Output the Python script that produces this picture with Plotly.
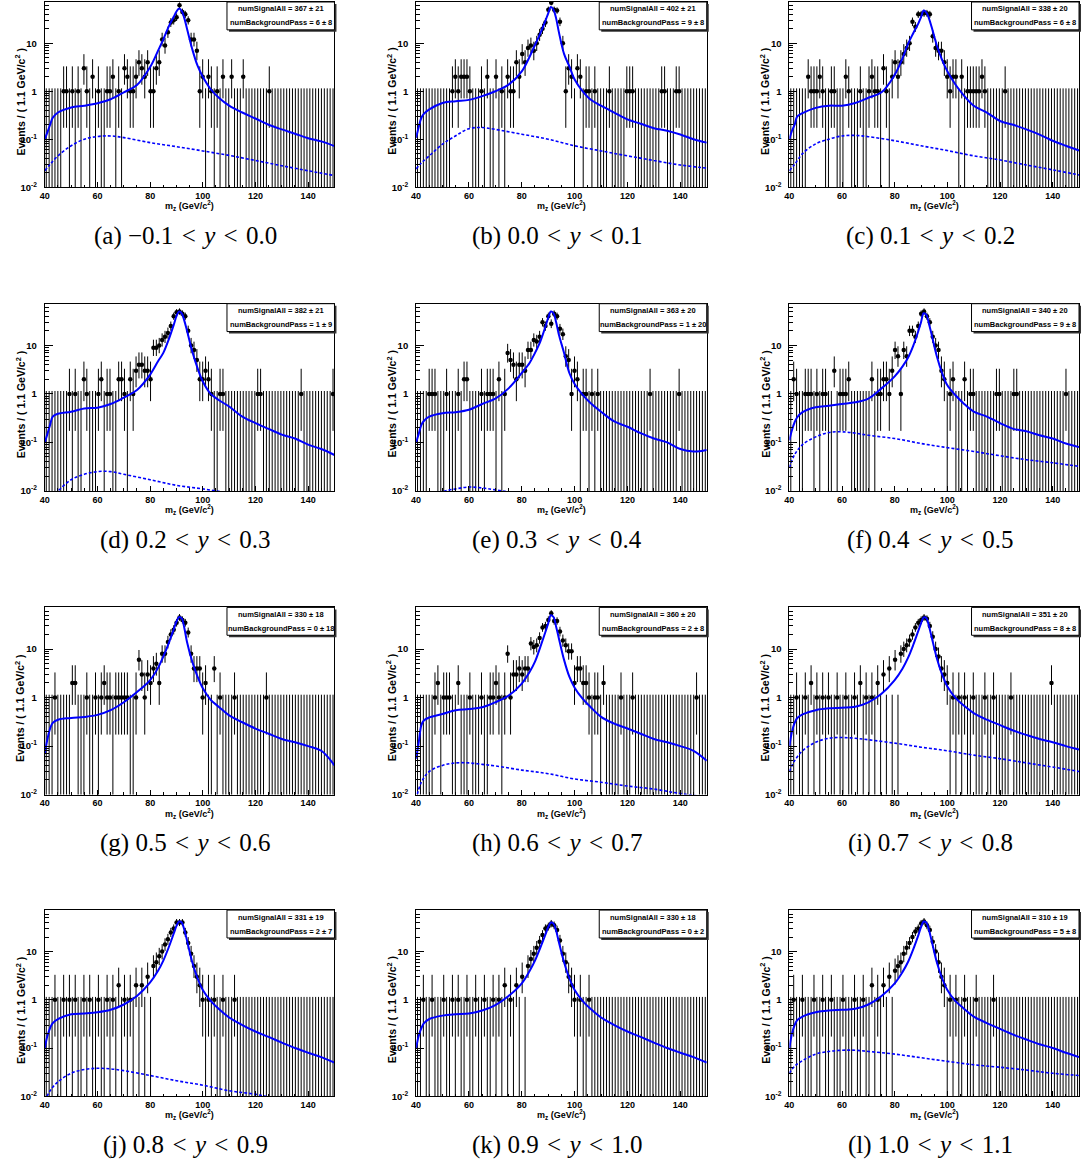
import math
import plotly.graph_objects as go

W, H = 1083, 1169
X_MIN, X_MAX, BIN_W, NBINS = 40.0, 150.0, 1.1, 100

PANEL_IDS = ["a", "b", "c", "d", "e", "f", "g", "h", "i", "j", "k", "l"]
CAPTION_LO = ["−0.1", "0.0", "0.1", "0.2", "0.3", "0.4", "0.5", "0.6", "0.7", "0.8", "0.9", "1.0"]
CAPTION_HI = ["0.0", "0.1", "0.2", "0.3", "0.4", "0.5", "0.6", "0.7", "0.8", "0.9", "1.0", "1.1"]
SIGNAL_VAL = ["367 ± 21", "402 ± 21", "338 ± 20", "382 ± 21", "363 ± 20", "340 ± 20",
              "330 ± 18", "360 ± 20", "351 ± 20", "331 ± 19", "330 ± 18", "310 ± 19"]
BKG_VAL = ["6 ± 8", "9 ± 8", "6 ± 8", "1 ± 9", "1 ± 20", "9 ± 8",
           "0 ± 18", "2 ± 8", "8 ± 8", "2 ± 7", "0 ± 2", "5 ± 8"]

# non-empty bins (bin index -> events); bins of 1.1 GeV starting at 40 GeV
COUNTS_A = {6: 1, 7: 1, 9: 1, 11: 1, 13: 3, 14: 1, 16: 2, 18: 1, 21: 1, 22: 1, 23: 2, 25: 1, 27: 3, 28: 2,
            29: 1, 30: 1, 31: 2, 32: 4, 33: 3, 34: 2, 35: 4, 36: 1, 37: 1, 38: 3, 39: 4, 40: 12, 41: 9,
            42: 17, 43: 27, 44: 30, 45: 35, 46: 62, 47: 45, 48: 40, 49: 30, 50: 12, 51: 12, 52: 7, 53: 1,
            54: 2, 56: 2, 57: 1, 59: 1, 61: 2, 64: 2, 68: 2, 77: 1}
COUNTS_B = {12: 1, 13: 2, 14: 1, 15: 2, 16: 2, 17: 2, 18: 1, 22: 1, 24: 2, 27: 2, 29: 1, 31: 2, 32: 1,
            33: 1, 34: 4, 35: 2, 36: 6, 37: 4, 38: 8, 39: 9, 40: 7, 41: 10, 42: 15, 43: 20, 44: 27,
            45: 50, 46: 70, 47: 50, 48: 48, 49: 28, 50: 10, 51: 1, 52: 3, 53: 2, 55: 3, 56: 2, 58: 1,
            59: 1, 61: 1, 66: 1, 72: 1, 73: 1, 74: 1, 84: 1, 85: 1, 89: 1, 90: 1}
COUNTS_C = {6: 2, 7: 1, 8: 1, 9: 1, 10: 2, 11: 1, 14: 1, 15: 1, 19: 2, 20: 1, 24: 1, 27: 1, 28: 2, 29: 1,
            30: 1, 32: 3, 33: 1, 35: 2, 36: 4, 37: 2, 38: 4, 39: 6, 40: 8, 41: 10, 42: 28, 43: 22,
            44: 40, 45: 40, 46: 42, 47: 42, 48: 40, 49: 14, 50: 8, 51: 7, 52: 7, 53: 4, 54: 2, 55: 1,
            56: 2, 57: 2, 59: 2, 61: 1, 62: 1, 63: 1, 64: 1, 65: 1, 66: 2, 67: 1, 74: 1}
COUNTS_D = {8: 1, 10: 1, 13: 2, 14: 1, 18: 1, 19: 2, 21: 1, 22: 1, 25: 2, 26: 2, 27: 1, 29: 2, 30: 1,
            31: 3, 32: 4, 33: 4, 34: 3, 35: 3, 36: 2, 37: 9, 38: 9, 39: 10, 40: 13, 41: 15, 42: 18,
            43: 25, 44: 40, 45: 48, 46: 50, 47: 45, 48: 40, 49: 20, 50: 10, 51: 8, 52: 5, 53: 2, 54: 2,
            55: 3, 56: 2, 57: 1, 60: 1, 61: 1, 73: 1, 74: 1, 88: 1, 99: 1}
COUNTS_E = {4: 1, 5: 1, 6: 1, 10: 1, 14: 1, 16: 2, 17: 2, 22: 1, 24: 1, 25: 1, 26: 1, 28: 2, 30: 1,
            31: 7, 32: 5, 33: 4, 34: 2, 35: 4, 36: 4, 37: 3, 38: 8, 39: 8, 40: 13, 41: 12, 42: 15,
            43: 30, 44: 25, 45: 40, 46: 28, 47: 45, 48: 40, 49: 22, 50: 17, 51: 6, 52: 5, 53: 1, 54: 3,
            55: 2, 57: 1, 58: 1, 60: 1, 62: 1, 80: 1, 90: 1}
COUNTS_F = {1: 2, 2: 1, 5: 1, 6: 1, 7: 1, 9: 1, 11: 1, 12: 1, 15: 3, 17: 1, 18: 1, 19: 1, 20: 2, 28: 2,
            30: 1, 31: 1, 32: 2, 33: 2, 34: 1, 35: 3, 36: 8, 37: 6, 38: 1, 39: 8, 40: 6, 41: 20, 42: 20,
            43: 15, 44: 25, 45: 45, 46: 50, 47: 40, 48: 30, 49: 15, 50: 10, 51: 8, 52: 3, 53: 2, 55: 1,
            56: 2, 60: 2, 62: 1, 63: 1, 71: 1, 72: 1, 77: 1, 78: 1, 95: 1}
COUNTS_G = {3: 1, 9: 2, 10: 2, 14: 1, 17: 1, 19: 1, 20: 2, 21: 1, 22: 1, 24: 1, 25: 1, 26: 1, 27: 1,
            28: 1, 31: 1, 32: 6, 33: 3, 34: 1, 35: 3, 36: 2, 37: 4, 38: 5, 39: 2, 40: 8, 41: 8, 42: 14,
            43: 20, 44: 25, 45: 35, 46: 45, 47: 40, 48: 35, 49: 22, 50: 8, 51: 4, 52: 4, 53: 4, 54: 1,
            55: 2, 58: 4, 60: 1, 65: 1, 76: 1}
COUNTS_H = {6: 1, 7: 2, 9: 1, 10: 1, 11: 1, 14: 2, 18: 1, 22: 1, 25: 1, 26: 1, 27: 2, 28: 1, 30: 1,
            31: 8, 32: 1, 33: 3, 34: 3, 35: 4, 36: 3, 37: 4, 38: 4, 39: 13, 40: 11, 41: 12, 42: 17,
            43: 28, 44: 30, 45: 40, 46: 55, 47: 38, 48: 38, 49: 23, 50: 15, 51: 12, 52: 9, 53: 9, 54: 2,
            55: 4, 56: 4, 57: 2, 58: 2, 59: 1, 61: 1, 62: 1, 64: 2, 70: 1, 74: 1, 96: 1}
COUNTS_I = {2: 1, 5: 1, 7: 2, 9: 1, 11: 1, 13: 1, 16: 1, 19: 1, 22: 1, 24: 2, 26: 1, 28: 1, 30: 2,
            32: 3, 34: 4, 36: 6, 38: 8, 39: 10, 40: 12, 41: 15, 42: 20, 43: 28, 44: 35, 45: 40, 46: 45,
            47: 42, 48: 30, 49: 18, 50: 10, 51: 7, 52: 4, 53: 3, 54: 2, 56: 1, 58: 1, 60: 1, 63: 1,
            67: 1, 70: 1, 76: 1, 90: 2}
COUNTS_J = {3: 1, 6: 1, 8: 1, 10: 1, 13: 1, 15: 1, 18: 1, 21: 1, 23: 1, 25: 2, 27: 1, 29: 1, 31: 2,
            33: 2, 35: 3, 37: 5, 38: 6, 39: 8, 40: 10, 41: 14, 42: 18, 43: 25, 44: 30, 45: 40, 46: 40,
            47: 40, 48: 25, 49: 15, 50: 9, 51: 5, 52: 3, 53: 2, 54: 1, 56: 1, 58: 1, 61: 1, 65: 1}
COUNTS_K = {2: 1, 5: 1, 9: 1, 12: 1, 14: 1, 17: 1, 20: 1, 23: 1, 26: 1, 28: 1, 30: 2, 32: 1, 34: 2,
            36: 3, 38: 5, 39: 7, 40: 9, 41: 12, 42: 16, 43: 22, 44: 30, 45: 33, 46: 38, 47: 35, 48: 28,
            49: 17, 50: 9, 51: 6, 52: 3, 53: 2, 54: 1, 56: 1, 59: 1}
COUNTS_L = {1: 1, 4: 1, 8: 1, 11: 1, 14: 1, 18: 1, 22: 1, 25: 1, 28: 2, 30: 1, 32: 2, 34: 3, 36: 4,
            37: 5, 38: 6, 39: 9, 40: 12, 41: 15, 42: 20, 43: 26, 44: 30, 45: 38, 46: 42, 47: 35, 48: 28,
            49: 16, 50: 10, 51: 6, 52: 3, 53: 2, 55: 1, 57: 1, 60: 1, 64: 1, 70: 1}

# fitted total PDF (solid) sampled at CURVE_X
CURVE_X = [40, 41, 42, 43, 45, 50, 55, 60, 65, 70, 75, 80, 83, 85, 87, 89, 90, 91, 92, 93, 94, 96, 98,
           100, 103, 106, 110, 115, 120, 125, 130, 135, 140, 145, 150]
TOTAL_A = [0.10, 0.14, 0.20, 0.28, 0.36, 0.46, 0.50, 0.56, 0.68, 0.95, 1.35, 3.2, 7.0, 12, 22, 36, 46,
           53, 47, 33, 20, 7.5, 3.4, 2.0, 1.1, 0.74, 0.50, 0.36, 0.27, 0.20, 0.16, 0.13, 0.105, 0.09, 0.072]
TOTAL_B = [0.107, 0.18, 0.28, 0.34, 0.42, 0.57, 0.62, 0.66, 0.79, 1.0, 1.37, 2.6, 5.3, 9.2, 16, 30, 42,
           57, 50, 33, 17.5, 6, 3.3, 1.75, 1.0, 0.67, 0.5, 0.36, 0.26, 0.21, 0.17, 0.15, 0.125, 0.10, 0.085]
TOTAL_C = [0.10, 0.15, 0.20, 0.30, 0.35, 0.45, 0.50, 0.50, 0.57, 0.73, 0.95, 2.2, 4.9, 9.5, 16, 26, 35,
           48, 44, 33, 22, 9, 4.5, 2.6, 1.4, 0.85, 0.5, 0.36, 0.24, 0.2, 0.16, 0.125, 0.093, 0.073, 0.058]
TOTAL_D = [0.10, 0.15, 0.23, 0.34, 0.39, 0.43, 0.50, 0.52, 0.62, 0.84, 1.2, 2.5, 4.7, 7, 13, 27, 40,
           50, 46, 32, 20, 7.5, 3.4, 1.8, 1.0, 0.75, 0.55, 0.34, 0.25, 0.19, 0.145, 0.12, 0.09, 0.073, 0.055]
TOTAL_E = [0.10, 0.15, 0.23, 0.28, 0.34, 0.40, 0.42, 0.47, 0.62, 0.80, 1.3, 2.7, 4.4, 7, 12, 25, 37,
           50, 46, 30, 17, 7, 2.7, 1.6, 0.97, 0.65, 0.43, 0.27, 0.21, 0.155, 0.12, 0.10, 0.073, 0.065, 0.07]
TOTAL_F = [0.11, 0.18, 0.26, 0.33, 0.42, 0.53, 0.57, 0.62, 0.67, 0.80, 1.3, 2.3, 3.7, 5.5, 9.7, 20, 30,
           46, 43, 28, 17, 6, 2.7, 1.5, 0.95, 0.65, 0.43, 0.34, 0.25, 0.19, 0.17, 0.14, 0.12, 0.095, 0.08]
TOTAL_G = [0.07, 0.14, 0.23, 0.30, 0.35, 0.38, 0.40, 0.44, 0.55, 0.80, 1.3, 2.3, 4.1, 7, 13, 26, 37,
           46, 43, 27, 14, 5.5, 2.7, 1.55, 0.9, 0.65, 0.43, 0.31, 0.23, 0.18, 0.14, 0.12, 0.10, 0.08, 0.04]
TOTAL_H = [0.055, 0.12, 0.27, 0.34, 0.39, 0.46, 0.55, 0.58, 0.63, 0.80, 1.1, 1.95, 3.4, 5.5, 11, 23, 34,
           50, 46, 29, 17, 6, 2.7, 1.6, 0.95, 0.64, 0.40, 0.29, 0.23, 0.18, 0.14, 0.12, 0.10, 0.08, 0.05]
TOTAL_I = [0.10, 0.2, 0.3, 0.38, 0.45, 0.55, 0.6, 0.62, 0.65, 0.8, 1.2, 2.3, 4, 6.5, 12, 24, 34, 45, 44,
           30, 18, 6.5, 3, 1.7, 1.0, 0.7, 0.48, 0.35, 0.27, 0.21, 0.17, 0.14, 0.12, 0.10, 0.085]
TOTAL_J = [0.10, 0.18, 0.26, 0.33, 0.40, 0.50, 0.52, 0.55, 0.62, 0.8, 1.2, 2.3, 4, 6.5, 12, 24, 34, 42,
           40, 28, 17, 6, 2.8, 1.6, 0.95, 0.65, 0.43, 0.3, 0.22, 0.17, 0.13, 0.1, 0.08, 0.065, 0.05]
TOTAL_K = [0.10, 0.18, 0.26, 0.33, 0.40, 0.47, 0.50, 0.52, 0.60, 0.78, 1.2, 2.2, 4, 6.5, 12, 23, 32, 40,
           38, 27, 16, 6, 2.8, 1.6, 0.95, 0.65, 0.43, 0.3, 0.22, 0.17, 0.13, 0.1, 0.08, 0.065, 0.05]
TOTAL_L = [0.10, 0.2, 0.3, 0.38, 0.45, 0.55, 0.6, 0.62, 0.65, 0.8, 1.2, 2.2, 3.8, 6, 11, 22, 32, 42, 40,
           28, 17, 6, 2.8, 1.6, 0.95, 0.68, 0.45, 0.33, 0.25, 0.19, 0.15, 0.12, 0.1, 0.08, 0.065]

# background component (dotted) sampled at BKG_X; None = not drawn
BKG_X = [40, 42, 45, 50, 55, 60, 65, 70, 80, 90, 100, 110, 120, 130, 140, 150]
BKG_A = [0.022, 0.03, 0.045, 0.073, 0.10, 0.114, 0.117, 0.108, 0.085, 0.07, 0.057, 0.046, 0.036, 0.028, 0.022, 0.0175]
BKG_B = [0.024, 0.032, 0.045, 0.079, 0.118, 0.166, 0.175, 0.16, 0.127, 0.10, 0.073, 0.057, 0.045, 0.036, 0.029, 0.025]
BKG_C = [0.022, 0.03, 0.05, 0.08, 0.10, 0.117, 0.12, 0.113, 0.093, 0.073, 0.058, 0.045, 0.037, 0.029, 0.023, 0.018]
BKG_D = [0.004, 0.007, 0.010, 0.017, 0.022, 0.025, 0.025, 0.022, 0.017, 0.013, 0.011, 0.009, 0.0075, 0.006, 0.005, 0.004]
BKG_E = [0.002, 0.004, 0.006, 0.0095, 0.011, 0.012, 0.0115, 0.0105, 0.0085, 0.007, 0.006, 0.005, 0.004, 0.0035, 0.003, 0.0025]
BKG_F = [0.03, 0.056, 0.09, 0.13, 0.16, 0.165, 0.155, 0.14, 0.12, 0.095, 0.078, 0.065, 0.053, 0.044, 0.038, 0.032]
BKG_G = None
BKG_H = [0.008, 0.018, 0.03, 0.04, 0.045, 0.045, 0.042, 0.039, 0.032, 0.027, 0.021, 0.018, 0.015, 0.013, 0.0105, 0.009]
BKG_I = [0.03, 0.05, 0.08, 0.12, 0.145, 0.15, 0.145, 0.135, 0.115, 0.095, 0.08, 0.065, 0.055, 0.045, 0.037, 0.03]
BKG_J = [0.008, 0.013, 0.02, 0.03, 0.036, 0.038, 0.037, 0.034, 0.027, 0.021, 0.017, 0.013, 0.011, 0.0085, 0.007, 0.0055]
BKG_K = None
BKG_L = [0.03, 0.042, 0.055, 0.075, 0.085, 0.09, 0.09, 0.085, 0.075, 0.063, 0.053, 0.045, 0.04, 0.035, 0.03, 0.027]

X_TICKS = [40, 60, 80, 100, 120, 140]
Y_TICKS = [0.01, 0.1, 1, 10]
Y_TICK_TEXT = ["<b>10<sup>-2</sup></b>", "<b>10<sup>-1</sup></b>", "<b>1</b>", "<b>10</b>"]

COUNTS = [COUNTS_A, COUNTS_B, COUNTS_C, COUNTS_D, COUNTS_E, COUNTS_F,
          COUNTS_G, COUNTS_H, COUNTS_I, COUNTS_J, COUNTS_K, COUNTS_L]
TOTALS = [TOTAL_A, TOTAL_B, TOTAL_C, TOTAL_D, TOTAL_E, TOTAL_F,
          TOTAL_G, TOTAL_H, TOTAL_I, TOTAL_J, TOTAL_K, TOTAL_L]
BKGS = [BKG_A, BKG_B, BKG_C, BKG_D, BKG_E, BKG_F, BKG_G, BKG_H, BKG_I, BKG_J, BKG_K, BKG_L]

# ---- layout geometry (pixels) ----
COL_L = [40, 413, 788]
COL_R = [331, 705, 1079]
ROW_T = [2, 305, 610, 914]
ROW_B = [188, 493, 798, 1101]
FONT = "Liberation Sans"
SP = "\u2004"


def pxx(v):
    return v / W


def pxy(v):
    return 1 - v / H


# ---- Poisson (RooFit-style) error intervals ----
def pois_cdf(n, mu):
    if mu <= 0:
        return 1.0
    return sum(math.exp(-mu + k * math.log(mu) - math.lgamma(k + 1)) for k in range(n + 1))


def bisect(f, target, lo, hi):
    for _ in range(70):
        mid = 0.5 * (lo + hi)
        if f(mid) > target:
            lo = mid
        else:
            hi = mid
    return 0.5 * (lo + hi)


ALPHA = 0.5 * (1 - 0.682689)


def interval(n):
    if n == 0:
        return 0.0, -math.log(1 - 0.682689)
    up = bisect(lambda m: pois_cdf(n, m), ALPHA, 0.0, n + 30.0)
    lo = bisect(lambda m: pois_cdf(n - 1, m), 1 - ALPHA, 0.0, n + 5.0)
    return lo, up


fig = go.Figure()
annotations = []
shapes = []
minor_y = [m * 10.0 ** e for e in (-2, -1, 0, 1) for m in range(2, 10)]

for p in range(12):
    r, c = divmod(p, 3)
    sfx = "" if p == 0 else str(p + 1)
    xa, ya = "x" + sfx, "y" + sfx
    counts = [COUNTS[p].get(i, 0) for i in range(NBINS)]
    centers = [X_MIN + BIN_W * (i + 0.5) for i in range(NBINS)]

    ex, ey = [], []
    for xc, n in zip(centers, counts):
        lo, hi = interval(n)
        ex += [xc, xc, None]
        ey += [max(lo, 1e-4), hi, None]
    fig.add_trace(go.Scatter(x=ex, y=ey, mode="lines", line=dict(color="black", width=1),
                             xaxis=xa, yaxis=ya, hoverinfo="skip", showlegend=False))
    fig.add_trace(go.Scatter(x=[x for x, n in zip(centers, counts) if n > 0],
                             y=[n for n in counts if n > 0], mode="markers",
                             marker=dict(color="black", size=4.5, line=dict(width=0)),
                             xaxis=xa, yaxis=ya, showlegend=False))
    if BKGS[p] is not None:
        fig.add_trace(go.Scatter(x=BKG_X, y=BKGS[p], mode="lines", line_shape="spline",
                                 line=dict(color="#0000ff", width=1.6, dash="3px,2px"),
                                 xaxis=xa, yaxis=ya, showlegend=False))
    fig.add_trace(go.Scatter(x=CURVE_X, y=TOTALS[p], mode="lines", line_shape="spline",
                             line=dict(color="#0000ff", width=2),
                             xaxis=xa, yaxis=ya, showlegend=False))

    L, R, T, B = COL_L[c], COL_R[c], ROW_T[r], ROW_B[r]
    fig.layout["xaxis" + sfx] = dict(
        domain=[pxx(L), pxx(R)], anchor=ya, range=[X_MIN, X_MAX], showgrid=False, zeroline=False,
        showline=True, linecolor="black", linewidth=1, mirror=True,
        ticks="inside", ticklen=5, tickcolor="black", tickwidth=1,
        tickvals=X_TICKS, ticktext=["<b>%d</b>" % v for v in X_TICKS],
        tickfont=dict(family=FONT, size=9, color="black"), ticklabelstandoff=0,
        minor=dict(dtick=5, ticks="inside", ticklen=2.5, tickcolor="black"))
    fig.layout["yaxis" + sfx] = dict(
        domain=[pxy(B), pxy(T)], anchor=xa, type="log", range=[-2, 1.86], showgrid=False,
        zeroline=False, showline=True, linecolor="black", linewidth=1, mirror=True,
        ticks="inside", ticklen=8, tickcolor="black", tickwidth=1,
        tickvals=Y_TICKS, ticktext=Y_TICK_TEXT, tickfont=dict(family=FONT, size=9.5, color="black"),
        ticklabelstandoff=5,
        minor=dict(tickmode="array", tickvals=minor_y, ticks="inside", ticklen=4, tickcolor="black"))

    cx = 0.5 * (L + R)
    annotations.append(dict(x=pxx(cx), y=pxy(B + 18.5), xref="paper", yref="paper",
                            text="<b>m<sub>z</sub> (GeV/c<sup>2</sup>)</b>", showarrow=False,
                            font=dict(family=FONT, size=9, color="black"),
                            xanchor="center", yanchor="middle"))
    annotations.append(dict(x=pxx(L - 25), y=pxy(0.5 * (T + B) + 7), xref="paper", yref="paper",
                            text="<b>Events / ( 1.1 GeV/c<sup>2</sup> )</b>", showarrow=False,
                            textangle=-90, font=dict(family=FONT, size=10.5, color="black"),
                            xanchor="center", yanchor="middle"))
    annotations.append(dict(x=pxx(cx - 4), y=pxy(B + 49), xref="paper", yref="paper",
                            text="(%s) %s%s&lt;%s<i>y</i>%s&lt;%s%s" % (PANEL_IDS[p], CAPTION_LO[p], SP, SP, SP, SP,
                                                                   CAPTION_HI[p]),
                            showarrow=False, font=dict(family="Liberation Serif", size=25, color="black"),
                            xanchor="center", yanchor="middle"))
    # stats box
    bx0, bx1, by0, by1 = R - 108, R, T, T + 28
    shapes.append(dict(type="rect", xref="paper", yref="paper", x0=pxx(bx0 + 2), x1=pxx(bx1 + 2),
                       y0=pxy(by1 + 2), y1=pxy(by0 + 2), fillcolor="#333333", line=dict(width=0)))
    shapes.append(dict(type="rect", xref="paper", yref="paper", x0=pxx(bx0), x1=pxx(bx1),
                       y0=pxy(by1), y1=pxy(by0), fillcolor="white", line=dict(color="black", width=1)))
    annotations.append(dict(x=pxx(bx0 + 54), y=pxy(by0 + 7), xref="paper", yref="paper",
                            text="<b>numSignalAll = %s</b>" % SIGNAL_VAL[p], showarrow=False,
                            font=dict(family=FONT, size=7.5, color="black"), xanchor="center", yanchor="middle"))
    annotations.append(dict(x=pxx(bx0 + 54), y=pxy(by0 + 21), xref="paper", yref="paper",
                            text="<b>numBackgroundPass = %s</b>" % BKG_VAL[p], showarrow=False,
                            font=dict(family=FONT, size=7.5, color="black"), xanchor="center", yanchor="middle"))

fig.update_layout(width=W, height=H, margin=dict(l=0, r=0, t=0, b=0), paper_bgcolor="white",
                  plot_bgcolor="white", showlegend=False, annotations=annotations, shapes=shapes,
                  hovermode=False)
fig.write_html("out.html", config={"displayModeBar": False},
               post_script="document.body.style.margin='0';document.body.style.overflow='hidden';")
